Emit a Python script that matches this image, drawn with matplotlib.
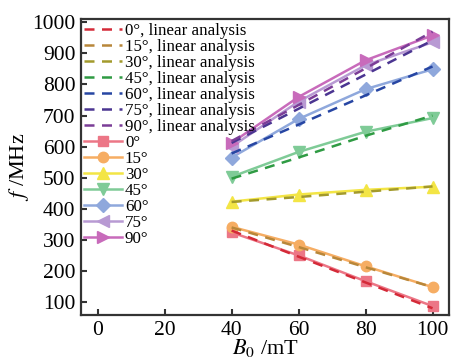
import matplotlib
matplotlib.use("Agg")
import matplotlib.pyplot as plt

B0 = [40, 60, 80, 100]
angles = ["0°", "15°", "30°", "45°", "60°", "75°", "90°"]

# measured (solid with markers)
f_0 = [324, 250, 167, 87]
f_15 = [342, 285, 215, 148]
f_30 = [423, 446, 461, 471]
f_45 = [503, 583, 648, 692]
f_60 = [565, 689, 785, 849]
f_75 = [600, 745, 862, 936]
f_90 = [612, 760, 878, 958]

# linear analysis (dashed)
lin_0 = [330, 246, 163, 80]
lin_15 = [340, 277, 212, 148]
lin_30 = [422, 438, 455, 472]
lin_45 = [497, 565, 635, 700]
lin_60 = [578, 671, 765, 858]
lin_75 = [612, 722, 832, 942]
lin_90 = [618, 734, 852, 970]

measured = [f_0, f_15, f_30, f_45, f_60, f_75, f_90]
linear = [lin_0, lin_15, lin_30, lin_45, lin_60, lin_75, lin_90]

dash_colors = ["#d42a38", "#b8873a", "#a39a2c", "#2f9b43", "#2746a3", "#4b3591", "#7b3d97"]
mark_colors = ["#ec7686", "#f6ad63", "#f3e545", "#7fcb97", "#8fa8dc", "#b89ad3", "#c86bbb"]
markers = ["s", "o", "^", "v", "D", "<", ">"]
msizes = [6.5, 7.5, 8.5, 8.5, 7, 8.5, 8.5]

plt.rcParams['font.family'] = ['Liberation Serif', 'DejaVu Serif']
plt.rcParams['mathtext.fontset'] = 'stix'

fig = plt.figure(figsize=(4.52, 3.63), dpi=100)
ax = fig.add_axes([0.179, 0.132, 0.815, 0.815])

for i, a in enumerate(angles):
    ax.plot(B0, linear[i], linestyle=(0, (4, 3)), color=dash_colors[i], lw=1.8,
            label=f"{a}, linear analysis", zorder=3)
for i, a in enumerate(angles):
    ax.plot(B0, measured[i], color=mark_colors[i], lw=1.8, marker=markers[i],
            markersize=msizes[i], label=a, zorder=2)

ax.set_xlim(-5, 105)
ax.set_ylim(58, 1010)
ax.set_xticks([0, 20, 40, 60, 80, 100])
ax.set_yticks([100, 200, 300, 400, 500, 600, 700, 800, 900, 1000])
ax.tick_params(direction='in', labelsize=15.5, length=4, width=1.5, color='#333333', pad=4)
for s in ax.spines.values():
    s.set_linewidth(1.6)
    s.set_color('#333333')

ax.set_xlabel(r"$B_0$ /mT", fontsize=16, labelpad=-2)
ax.set_ylabel(r"$f$ /MHz", fontsize=16, labelpad=1)

leg = ax.legend(loc='upper left', fontsize=12.2, frameon=False, handlelength=2.2,
                handletextpad=0.2, labelspacing=0.0, borderaxespad=0.15,
                borderpad=0.05)

fig.savefig("out.png", dpi=100)
